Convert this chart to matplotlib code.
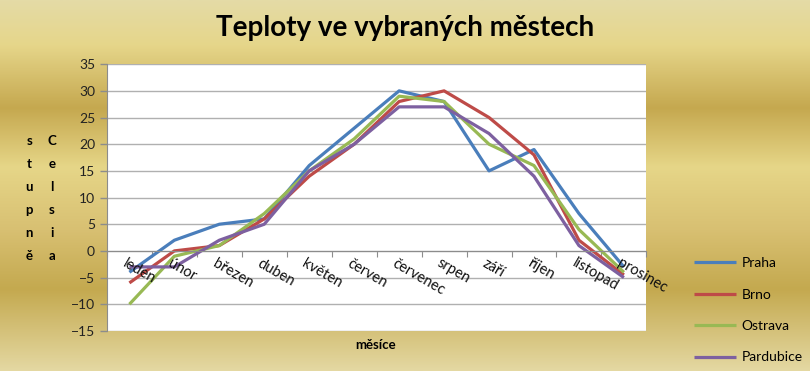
import numpy as np
import matplotlib
matplotlib.use("Agg")
import matplotlib.pyplot as plt
from matplotlib.colors import LinearSegmentedColormap

# Data
mesice = ['leden', 'únor', 'březen', 'duben', 'květen', 'červen',
          'červenec', 'srpen', 'září', 'říjen', 'listopad', 'prosinec']
praha = [-4, 2, 5, 6, 16, 23, 30, 28, 15, 19, 7, -3]
brno = [-6, 0, 1, 6, 14, 20, 28, 30, 25, 18, 2, -4.5]
ostrava = [-10, -1, 1, 7, 15, 21, 29, 28, 20, 16, 4, -4]
pardubice = [-3, -3, 2, 5, 15, 20, 27, 27, 22, 14, 1, -5]

mesta = ['Praha', 'Brno', 'Ostrava', 'Pardubice']
barvy = ['#4A7EBB', '#BE4B48', '#98B954', '#7D60A0']

plt.rcParams['font.family'] = ['Lato', 'DejaVu Sans']

fig = plt.figure(figsize=(8.1, 3.71), dpi=100)

# zlate pozadi s prechodem
bg = fig.add_axes([0, 0, 1, 1], zorder=-10)
stops = [(0.0, '#e4dba6'), (0.12, '#e6d68a'), (0.29, '#c5a84f'),
         (0.45, '#e6d688'), (0.62, '#d8c072'), (0.78, '#c4a94f'),
         (1.0, '#e4d8a2')]
cmap = LinearSegmentedColormap.from_list('zlato', stops)
grad = np.linspace(0, 1, 256).reshape(-1, 1)
bg.imshow(grad, aspect='auto', cmap=cmap, extent=[0, 1, 0, 1], origin='upper')
bg.axis('off')

ax = fig.add_axes([0.132, 0.108, 0.666, 0.719])
ax.set_facecolor('white')
x = np.arange(len(mesice))
for data, jmeno, barva in zip([praha, brno, ostrava, pardubice], mesta, barvy):
    ax.plot(x, data, color=barva, linewidth=2.3, label=jmeno,
            solid_capstyle='butt')

ax.set_xlim(-0.5, len(mesice) - 0.5)
ax.set_ylim(-15, 35)
ax.set_yticks(range(-15, 36, 5))
ax.yaxis.grid(True, color='#b0b0b0', linewidth=1.0)
ax.set_axisbelow(True)
for s in ['top', 'right']:
    ax.spines[s].set_visible(False)
ax.spines['left'].set_color('#8c8c8c')
ax.spines['bottom'].set_position(('data', 0))
ax.spines['bottom'].set_color('#8c8c8c')
ax.tick_params(axis='y', labelsize=10, colors='#8c8c8c', labelcolor='#222222',
               length=5, width=1)

# kategoriova osa v nule
ax.set_xticks(np.arange(-0.5, len(mesice) + 0.5, 1))
ax.set_xticklabels([])
ax.tick_params(axis='x', direction='out', length=4, colors='#8c8c8c')
for i, m in enumerate(mesice):
    ax.text(i - 0.05, -1.0, m, rotation=-30, rotation_mode='anchor',
            ha='left', va='top', fontsize=10.5, color='#111111')

fig.text(0.5, 0.925, 'Teploty ve vybraných městech', ha='center',
         va='center', fontsize=20, fontweight='bold')
fig.text(0.464, 0.07, 'měsíce', ha='center', va='center', fontsize=9.5,
         fontweight='bold')

# svisly popisek - pismena pod sebou
fig.text(0.036, 0.464, '\n'.join('stupně'), ha='center', va='center',
         fontsize=9.5, fontweight='bold', linespacing=2.1)
fig.text(0.064, 0.464, '\n'.join('Celsia'), ha='center', va='center',
         fontsize=9.5, fontweight='bold', linespacing=2.1)

fig.legend(loc='upper left', bbox_to_anchor=(0.85, 0.322), frameon=False,
           fontsize=10, handlelength=3.0, labelspacing=1.4, handletextpad=0.4,
           borderaxespad=0)

fig.savefig('out.png', dpi=100)
